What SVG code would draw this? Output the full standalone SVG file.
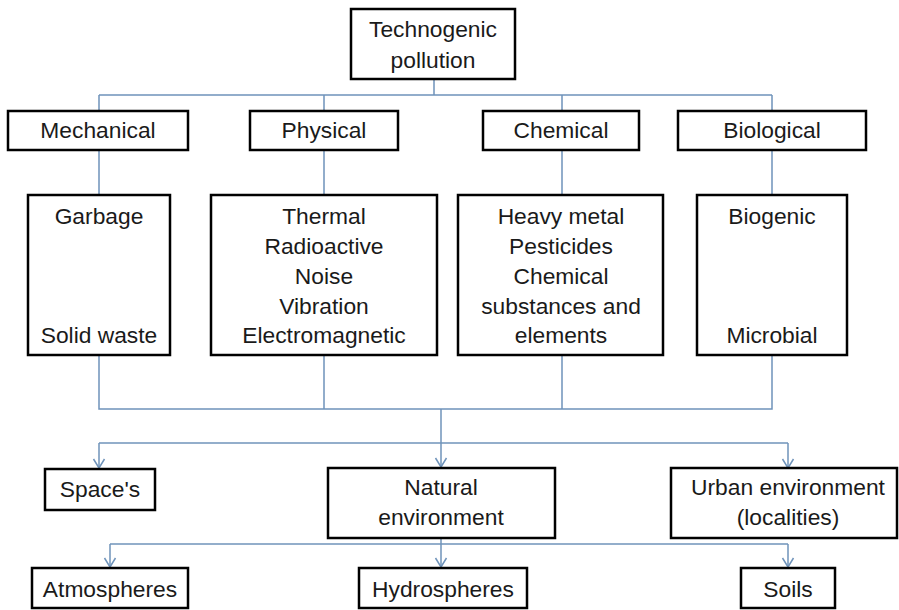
<svg xmlns="http://www.w3.org/2000/svg" width="899" height="610" viewBox="0 0 899 610">
<defs>
<style>
.box{fill:#fff;stroke:#000;stroke-width:2.5}
.t{font-family:"Liberation Sans",Arial,sans-serif;font-size:22.8px;fill:#1a1a1a;text-anchor:middle}
.c{fill:none;stroke:#6f93ba;stroke-width:1.5}
</style>
<marker id="arr" markerUnits="userSpaceOnUse" markerWidth="14" markerHeight="14" viewBox="-10 -7 12 14" refX="0" refY="0" orient="auto" overflow="visible">
<path d="M-9,-5.5 L0,0 L-9,5.5" fill="none" stroke="#6f93ba" stroke-width="1.5"/>
</marker>
</defs>
<rect width="899" height="610" fill="#fff"/>
<g id="connectors">
<path class="c" d="M434,79 V95 M99,95 H772 M99,95 V111 M324,95 V111 M562,95 V111 M772,95 V111"/>
<path class="c" d="M99,150 V195 M324,150 V195 M562,150 V195 M772,150 V195"/>
<path class="c" d="M99,355 V409 H772 V355 M324,355 V409 M562,355 V409"/>
<path class="c" d="M99,443 H788"/>
<path class="c" d="M441,409 V467" marker-end="url(#arr)"/>
<path class="c" d="M99,443 V468" marker-end="url(#arr)"/>
<path class="c" d="M788,443 V468" marker-end="url(#arr)"/>
<path class="c" d="M110,544 H788"/>
<path class="c" d="M441,538 V567" marker-end="url(#arr)"/>
<path class="c" d="M110,544 V567" marker-end="url(#arr)"/>
<path class="c" d="M788,544 V567" marker-end="url(#arr)"/>
</g>
<g id="technogenic"><rect class="box" x="351" y="9" width="164" height="70"/><text class="t" x="433" y="37">Technogenic</text><text class="t" x="433" y="68">pollution</text></g>
<g id="mechanical"><rect class="box" x="8" y="111" width="180" height="39"/><text class="t" x="98" y="138">Mechanical</text></g>
<g id="physical"><rect class="box" x="250" y="111" width="148" height="39"/><text class="t" x="324" y="138">Physical</text></g>
<g id="chemical"><rect class="box" x="483" y="111" width="156" height="39"/><text class="t" x="561" y="138">Chemical</text></g>
<g id="biological"><rect class="box" x="678" y="111" width="188" height="39"/><text class="t" x="772" y="138">Biological</text></g>
<g id="mech-list"><rect class="box" x="28" y="195" width="142" height="160"/><text class="t" x="99" y="224">Garbage</text><text class="t" x="99" y="343">Solid waste</text></g>
<g id="phys-list"><rect class="box" x="211" y="195" width="226" height="160"/><text class="t" x="324" y="224">Thermal</text><text class="t" x="324" y="254">Radioactive</text><text class="t" x="324" y="284">Noise</text><text class="t" x="324" y="314">Vibration</text><text class="t" x="324" y="343">Electromagnetic</text></g>
<g id="chem-list"><rect class="box" x="458" y="195" width="205" height="160"/><text class="t" x="561" y="224">Heavy metal</text><text class="t" x="561" y="254">Pesticides</text><text class="t" x="561" y="284">Chemical</text><text class="t" x="561" y="314">substances and</text><text class="t" x="561" y="343">elements</text></g>
<g id="bio-list"><rect class="box" x="697" y="195" width="150" height="160"/><text class="t" x="772" y="224">Biogenic</text><text class="t" x="772" y="343">Microbial</text></g>
<g id="spaces"><rect class="box" x="45" y="469" width="110" height="41"/><text class="t" x="100" y="497">Space's</text></g>
<g id="natural"><rect class="box" x="328" y="468" width="227" height="70"/><text class="t" x="441" y="495">Natural</text><text class="t" x="441" y="525">environment</text></g>
<g id="urban"><rect class="box" x="671" y="468" width="226" height="70"/><text class="t" x="788" y="495">Urban environment</text><text class="t" x="788" y="525">(localities)</text></g>
<g id="atmospheres"><rect class="box" x="32" y="568" width="156" height="40"/><text class="t" x="110" y="597">Atmospheres</text></g>
<g id="hydrospheres"><rect class="box" x="359" y="568" width="168" height="40"/><text class="t" x="443" y="597">Hydrospheres</text></g>
<g id="soils"><rect class="box" x="741" y="568" width="94" height="40"/><text class="t" x="788" y="597">Soils</text></g>
</svg>
